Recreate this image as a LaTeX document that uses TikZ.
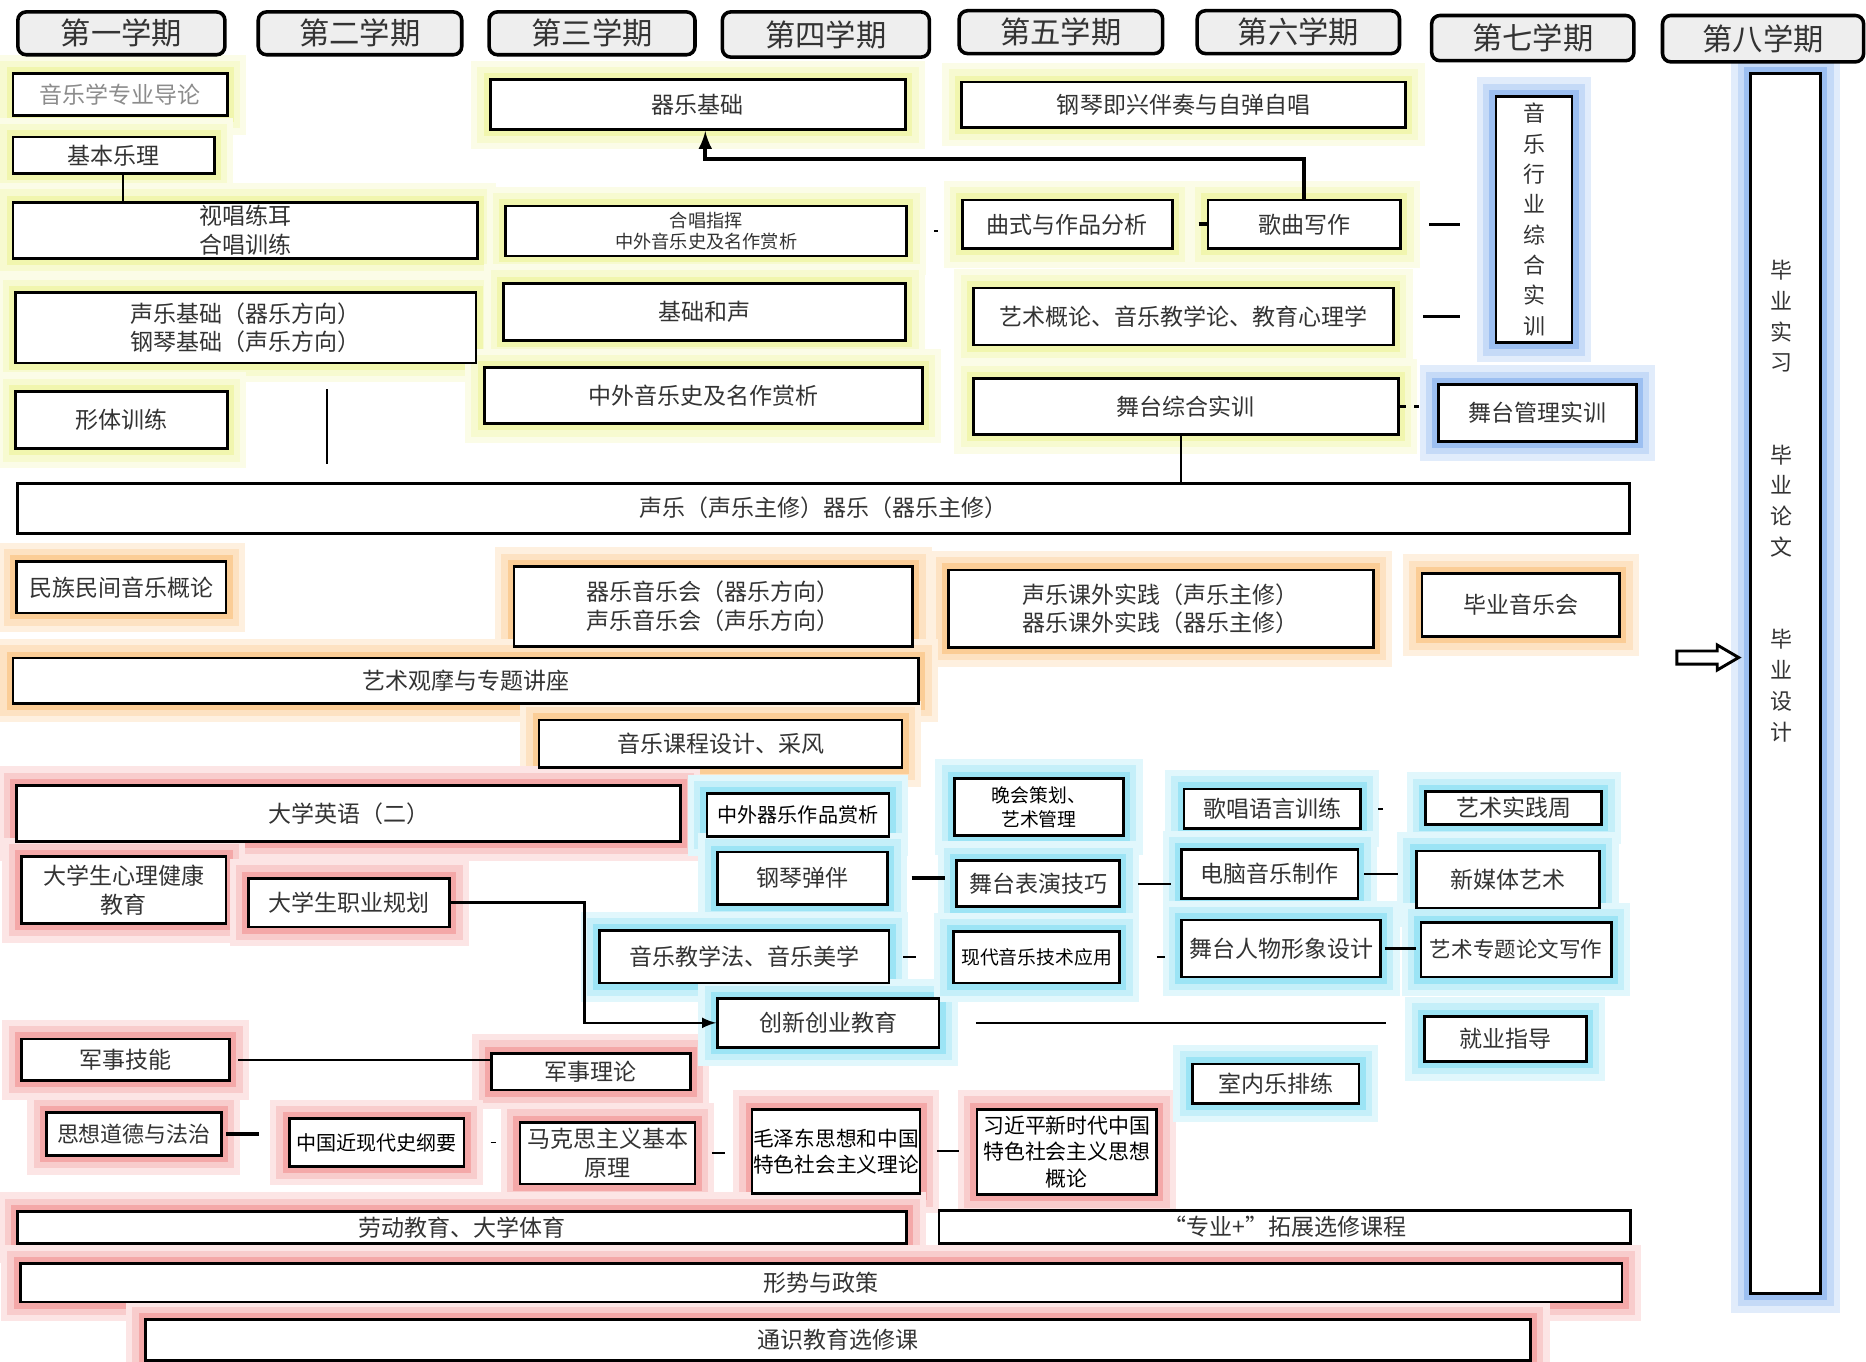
\documentclass[tikz,border=0pt]{standalone}
\usepackage{fontspec}
\setmainfont{Noto Sans CJK SC}
\usetikzlibrary{calc}
\usetikzlibrary{arrows}
\usetikzlibrary{backgrounds}

\definecolor{gyellow}{RGB}{232,240,120}
\definecolor{gorange}{RGB}{248,172,80}
\definecolor{gred}{RGB}{236,110,110}
\definecolor{gcyan}{RGB}{90,210,238}
\definecolor{gblue}{RGB}{90,148,232}
\definecolor{headfill}{RGB}{238,238,238}

\tikzset{
  box at/.style n args={4}{at={($(#1,#2)!0.5!(#3,#4)$)},
    minimum width={(#3-#1)*0.2mm}, minimum height={(#4-#2)*0.2mm}},
  course/.style={draw, line width=1.3pt, fill=white, inner sep=0pt, align=center,
    text=black!80, font=\fontsize{11}{13.5}\selectfont},
  small/.style={font=\fontsize{9.6}{11.5}\selectfont},
  vtext/.style={align=center, inner sep=0pt, text=black!80, font=\fontsize{10.5}{14.5}\selectfont},
  halo/.style={preaction={draw=#1!18, line width=17pt}, preaction={draw=#1!35, line width=11pt},
    draw=#1!60, line width=5pt},
  term/.style={draw, line width=1.7pt, rounded corners=4pt, fill=headfill, inner sep=0pt,
    text=black!80, font=\fontsize{14.5}{16}\selectfont},
  link/.style={line width=0.9pt},
  bold link/.style={line width=1.9pt},
}

\begin{document}
\begin{tikzpicture}[>=latex, x=0.2mm, y=-0.2mm]
\useasboundingbox (0,0) rectangle (1568,1144);

% semesters
\node[term, box at={15}{10}{189}{46}] (s1) {第一学期};
\node[term, box at={217}{10}{388}{46}] (s2) {第二学期};
\node[term, box at={411}{10}{584}{46}] (s3) {第三学期};
\node[term, box at={607}{10}{781}{48}] (s4) {第四学期};
\node[term, box at={806}{9}{977}{45}] (s5) {第五学期};
\node[term, box at={1006}{9}{1176}{45}] (s6) {第六学期};
\node[term, box at={1203}{13}{1373}{51}] (s7) {第七学期};
\node[term, box at={1397}{13}{1566}{52}] (s8) {第八学期};

% professional basics
\node[course, box at={11}{62}{191}{97}, text=black!45] (daolun) {音乐学专业导论};
\node[course, box at={11}{115}{180}{146}] (yueli) {基本乐理};
\node[course, box at={11}{170}{401}{217}] (shichang) {视唱练耳\\合唱训练};
\node[course, box at={13}{246}{400}{305}] (jichu) {声乐基础（器乐方向）\\钢琴基础（声乐方向）};
\node[course, box at={13}{329}{191}{377}] (xingti) {形体训练};
\node[course, box at={412}{67}{761}{109}] (qiyue) {器乐基础};
\node[course, box at={425}{173}{762}{215}, font=\fontsize{8.7}{10.3}\selectfont] (zhihui) {合唱指挥\\中外音乐史及名作赏析};
\node[course, box at={423}{238}{761}{286}] (hesheng) {基础和声};
\node[course, box at={407}{309}{775}{356}] (yinyueshi) {中外音乐史及名作赏析};
\node[course, box at={808}{69}{1181}{107}] (jixing) {钢琴即兴伴奏与自弹自唱};
\node[course, box at={809}{168}{985}{209}] (qushi) {曲式与作品分析};
\node[course, box at={1015}{168}{1177}{209}] (gequ) {歌曲写作};
\node[course, box at={818}{242}{1171}{290}] (gailun) {艺术概论、音乐教学论、教育心理学};
\node[course, box at={818}{318}{1175}{365}] (zonghe) {舞台综合实训};

% practice, right side
\node[course, box at={1257}{81}{1321}{288}, vtext] (hangye) {音\\乐\\行\\业\\综\\合\\实\\训};
\node[course, box at={1209}{323}{1375}{371}] (guanli) {舞台管理实训};
\node[course, box at={1471}{62}{1530}{1087}] (biye) {};
\node[vtext, font=\fontsize{10.5}{14.7}\selectfont] (biyetext) at (1497,421)
  {毕\\业\\实\\习\\[29.5pt]毕\\业\\论\\文\\[29.5pt]毕\\业\\设\\计};

\node[course, box at={15}{406}{1369}{448}] (zhuxiu) {声乐（声乐主修）器乐（器乐主修）};

% concerts and practice
\node[course, box at={14}{472}{190}{515}] (minzu) {民族民间音乐概论};
\node[course, box at={432}{476}{767}{543}] (yinyuehui) {器乐音乐会（器乐方向）\\声乐音乐会（声乐方向）};
\node[course, box at={797}{479}{1154}{544}] (kewai) {声乐课外实践（声乐主修）\\器乐课外实践（器乐主修）};
\node[course, box at={1195}{482}{1361}{535}] (biyeyyh) {毕业音乐会};
\node[course, box at={11}{553}{772}{591}] (guanmo) {艺术观摩与专题讲座};
\node[course, box at={453}{605}{758}{645}] (caifeng) {音乐课程设计、采风};

% general education
\node[course, box at={14}{660}{572}{707}] (yingyu) {大学英语（二）};
\node[course, box at={18}{720}{190}{776}] (xinli) {大学生心理健康\\教育};
\node[course, box at={209}{738}{378}{779}] (zhiye) {大学生职业规划};
\node[course, box at={18}{873}{193}{908}] (junji) {军事技能};
\node[course, box at={413}{885}{580}{916}] (junli) {军事理论};
\node[course, box at={39}{935}{186}{971}, font=\fontsize{10.5}{13}\selectfont] (daode) {思想道德与法治};
\node[course, box at={243}{940}{390}{980}, small, text=black] (gangyao) {中国近现代史纲要};
\node[course, box at={437}{943}{584}{995}] (makesi) {马克思主义基本\\原理};
\node[course, box at={632}{932}{773}{1003}, font=\fontsize{9.9}{12.5}\selectfont, text=black] (maozedong) {毛泽东思想和中国\\特色社会主义理论};
\node[course, box at={821}{932}{972}{1004}, font=\fontsize{10}{12.5}\selectfont, text=black] (xi) {习近平新时代中国\\特色社会主义思想\\概论};
\node[course, box at={15}{1018}{762}{1045}] (laodong) {劳动教育、大学体育};
\node[course, box at={789}{1017}{1370}{1045}] (tuozhan) {“专业+”拓展选修课程};
\node[course, box at={17}{1062}{1363}{1094}] (xingshi) {形势与政策};
\node[course, box at={122}{1109}{1286}{1143}] (tongshi) {通识教育选修课};

% electives
\node[course, box at={594}{667}{747}{703}, small, text=black] (zwqy) {中外器乐作品赏析};
\node[course, box at={603}{716}{746}{760}] (gangqin) {钢琴弹伴};
\node[course, box at={504}{782}{747}{826}] (jiaoxue) {音乐教学法、音乐美学};
\node[course, box at={603}{839}{789}{880}] (chuangxin) {创新创业教育};
\node[course, box at={802}{654}{944}{702}, font=\fontsize{9}{11.5}\selectfont, text=black] (wanhui) {晚会策划、\\艺术管理};
\node[course, box at={804}{723}{941}{762}] (biaoyan) {舞台表演技巧};
\node[course, box at={801}{783}{941}{826}, font=\fontsize{9}{11}\selectfont, text=black] (xiandai) {现代音乐技术应用};
\node[course, box at={995}{663}{1143}{696}] (gechang) {歌唱语言训练};
\node[course, box at={993}{714}{1141}{755}] (diannao) {电脑音乐制作};
\node[course, box at={993}{773}{1160}{821}] (renwu) {舞台人物形象设计};
\node[course, box at={1002}{894}{1142}{927}] (shinei) {室内乐排练};
\node[course, box at={1198}{665}{1346}{693}] (shijianzhou) {艺术实践周};
\node[course, box at={1190}{715}{1344}{763}] (xinmeiti) {新媒体艺术};
\node[course, box at={1194}{775}{1354}{821}, font=\fontsize{10.3}{12}\selectfont] (zhuanti) {艺术专题论文写作};
\node[course, box at={1197}{854}{1333}{892}] (jiuye) {就业指导};

% glows behind the boxes
\begin{scope}[on background layer]
  \foreach \n in {daolun,yueli,shichang,jichu,xingti,qiyue,zhihui,hesheng,yinyueshi,
      jixing,qushi,gequ,gailun,zonghe}
    \draw[halo=gyellow] (\n.south west) rectangle (\n.north east);
  \foreach \n in {hangye,guanli,biye}
    \draw[halo=gblue] (\n.south west) rectangle (\n.north east);
  \foreach \n in {minzu,yinyuehui,kewai,biyeyyh,guanmo,caifeng}
    \draw[halo=gorange] (\n.south west) rectangle (\n.north east);
  \foreach \n in {yingyu,xinli,zhiye,junji,junli,daode,gangyao,makesi,maozedong,xi,
      laodong,xingshi,tongshi}
    \draw[halo=gred] (\n.south west) rectangle (\n.north east);
  \foreach \n in {zwqy,gangqin,jiaoxue,chuangxin,wanhui,biaoyan,xiandai,gechang,
      diannao,renwu,shinei,shijianzhou,xinmeiti,zhuanti,jiuye}
    \draw[halo=gcyan] (\n.south west) rectangle (\n.north east);
\end{scope}

% links, upper part
\draw[link] ([xshift=4.5pt]yueli.south) -- ([xshift=4.5pt]yueli.south |- shichang.north);
\draw[->, bold link] (gequ.north) -- ++(0,-33) -| ([xshift=3.5pt]qiyue.south);
\draw[link, shorten <=12.5pt, shorten >=11pt] (zhihui.east) -- (zhihui.east -| qushi.west);
\draw[bold link, shorten <=12pt] (qushi.east) -- (qushi.east -| gequ.west);
\draw[line width=1.3pt, shorten <=13pt, shorten >=16.5pt] (gequ.east) -- (gequ.east -| hangye.west);
\draw[line width=1.3pt, shorten <=13.6pt, shorten >=16.4pt] (gailun.east) -- (gailun.east -| hangye.west);
\draw[line width=1.3pt, dash pattern=on 3pt off 4pt on 2pt off 30pt] (zonghe.east) -- (zonghe.east -| guanli.west);
\draw[link] ([xshift=-2.5pt]zonghe.south) -- ([xshift=-2.5pt]zonghe.south |- zhuxiu.north);
\draw[link, shorten <=12pt, shorten >=8.5pt] ([xshift=39pt]jichu.south) -- ([xshift=39pt]jichu.south |- zhuxiu.north);

% pointer to graduation
\draw[line width=1.4pt] (1409,547) -- (1443,547) -- (1443,542) -- (1461,552.5)
  -- (1443,563) -- (1443,558) -- (1409,558) -- cycle;

% links, lower part
\draw[bold link, shorten <=10.8pt, shorten >=5pt] (gangqin.east) -- (gangqin.east -| biaoyan.west);
\draw[link, shorten <=8pt, shorten >=4.5pt] (biaoyan.east) -- (biaoyan.east -| diannao.west);
\draw[link, shorten <=2.3pt, shorten >=8pt] (diannao.east) -- (diannao.east -| xinmeiti.west);
\draw[link, shorten <=8pt, shorten >=20pt] (gechang.east) -- (gechang.east -| shijianzhou.west);
\draw[bold link, shorten <=1.5pt, shorten >=1.5pt] (renwu.east) -- (renwu.east -| zhuanti.west);
\draw[link, shorten <=6.2pt, shorten >=17pt] (jiaoxue.east) -- (jiaoxue.east -| xiandai.west);
\draw[link, shorten <=17pt, shorten >=7.4pt] (xiandai.east) -- (xiandai.east -| renwu.west);
\draw[line width=1.3pt, shorten <=17pt, shorten >=17.6pt] (chuangxin.east) -- (chuangxin.east -| jiuye.west);
\draw[->, line width=1.3pt] (zhiye.east) -- ++(112,0) |- (chuangxin.west);
\draw[link, shorten <=3.4pt] (junji.east) -- (junji.east -| junli.west);
\draw[bold link, shorten <=1.7pt, shorten >=14pt] (daode.east) -- (daode.east -| gangyao.west);
\draw[link, shorten <=12pt, shorten >=10.8pt] (gangyao.east) -- (gangyao.east -| makesi.west);
\draw[link, shorten <=7.4pt, shorten >=12.5pt] (makesi.east) -- (makesi.east -| maozedong.west);
\draw[link, shorten <=7.4pt, shorten >=8pt] (maozedong.east) -- (maozedong.east -| xi.west);
\end{tikzpicture}
\end{document}
